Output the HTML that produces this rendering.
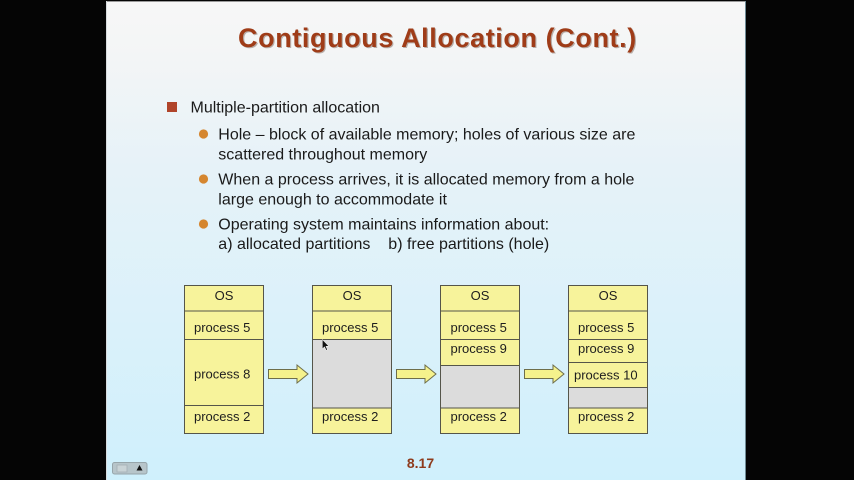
<!DOCTYPE html>
<html>
<head>
<meta charset="utf-8">
<style>
  html, body { margin: 0; padding: 0; background: #050505; }
  body { width: 854px; height: 480px; overflow: hidden; }
  svg { display: block; }
  .t { font-family: "Liberation Sans", Arial, sans-serif; }
</style>
</head>
<body>
<svg width="854" height="480" viewBox="0 0 854 480" xmlns="http://www.w3.org/2000/svg">
  <defs>
    <linearGradient id="bg" x1="0" y1="0" x2="0" y2="1">
      <stop offset="0" stop-color="#f7f7f7"/>
      <stop offset="0.12" stop-color="#f3f5f6"/>
      <stop offset="0.35" stop-color="#e6f2f8"/>
      <stop offset="1" stop-color="#cff0fc"/>
    </linearGradient>
  </defs>

  <rect x="0" y="0" width="854" height="480" fill="#050505"/>
  <rect x="106" y="1" width="640" height="479" fill="url(#bg)"/>
  <line x1="106" y1="1.5" x2="746" y2="1.5" stroke="#9a9a9a" stroke-width="1"/>
  <line x1="106.5" y1="1" x2="106.5" y2="480" stroke="#d8dcde" stroke-width="1"/>
  <line x1="745.5" y1="1" x2="745.5" y2="480" stroke="#6f8b96" stroke-width="1"/>

  <!-- Title -->
  <text class="t" x="238" y="47" font-size="27" font-weight="bold" letter-spacing="0.6" fill="#4a2a1a" opacity="0.35" transform="translate(1.2,1.2)">Contiguous Allocation (Cont.)</text>
  <text class="t" x="238" y="47" font-size="27" font-weight="bold" letter-spacing="0.6" fill="#9f3c18">Contiguous Allocation (Cont.)</text>

  <!-- Bullets -->
  <rect x="167" y="102" width="10" height="10" fill="#b0442a"/>
  <text class="t" x="190.5" y="112.5" font-size="16" fill="#1a1a1a">Multiple-partition allocation</text>

  <circle cx="203.5" cy="134" r="4.6" fill="#d5862f"/>
  <text class="t" x="218.3" y="139.5" font-size="16" fill="#1a1a1a">Hole – block of available memory; holes of various size are</text>
  <text class="t" x="218.3" y="159.5" font-size="16" fill="#1a1a1a">scattered throughout memory</text>

  <circle cx="203.5" cy="179" r="4.6" fill="#d5862f"/>
  <text class="t" x="218.3" y="184.5" font-size="16" fill="#1a1a1a">When a process arrives, it is allocated memory from a hole</text>
  <text class="t" x="218.3" y="204.5" font-size="16" fill="#1a1a1a">large enough to accommodate it</text>

  <circle cx="203.5" cy="224" r="4.6" fill="#d5862f"/>
  <text class="t" x="218.3" y="229.5" font-size="16" fill="#1a1a1a">Operating system maintains information about:</text>
  <text class="t" y="249" font-size="16" fill="#1a1a1a"><tspan x="218.3">a) allocated partitions</tspan><tspan x="388.3">b) free partitions (hole)</tspan></text>

  <!-- Box 1 -->
  <g stroke="#55554a" stroke-width="1">
    <rect x="184.5" y="285.5" width="79" height="148" fill="#f7f39b"/>
    <line x1="184.5" y1="311" x2="263.5" y2="311"/>
    <line x1="184.5" y1="339.5" x2="263.5" y2="339.5"/>
    <line x1="184.5" y1="405.5" x2="263.5" y2="405.5"/>
  </g>
  <!-- Box 2 -->
  <g stroke="#55554a" stroke-width="1">
    <rect x="312.5" y="285.5" width="79" height="148" fill="#f7f39b"/>
    <rect x="312.5" y="339.5" width="79" height="68.5" fill="#dcdcdc"/>
    <line x1="312.5" y1="311" x2="391.5" y2="311"/>
  </g>
  <!-- Box 3 -->
  <g stroke="#55554a" stroke-width="1">
    <rect x="440.5" y="285.5" width="79" height="148" fill="#f7f39b"/>
    <rect x="440.5" y="365.5" width="79" height="42.5" fill="#dcdcdc"/>
    <line x1="440.5" y1="311" x2="519.5" y2="311"/>
    <line x1="440.5" y1="339.5" x2="519.5" y2="339.5"/>
  </g>
  <!-- Box 4 -->
  <g stroke="#55554a" stroke-width="1">
    <rect x="568.5" y="285.5" width="79" height="148" fill="#f7f39b"/>
    <rect x="568.5" y="387.5" width="79" height="20.5" fill="#dcdcdc"/>
    <line x1="568.5" y1="311" x2="647.5" y2="311"/>
    <line x1="568.5" y1="339.5" x2="647.5" y2="339.5"/>
    <line x1="568.5" y1="362.5" x2="647.5" y2="362.5"/>
  </g>

  <!-- Box labels -->
  <g class="t" font-size="13" fill="#1e1e1e" font-family="Liberation Sans, Arial, sans-serif">
    <text x="224" y="300" text-anchor="middle">OS</text>
    <text x="194" y="332">process 5</text>
    <text x="194" y="378.5">process 8</text>
    <text x="194" y="421">process 2</text>

    <text x="352" y="300" text-anchor="middle">OS</text>
    <text x="322" y="332">process 5</text>
    <text x="322" y="421">process 2</text>

    <text x="480" y="300" text-anchor="middle">OS</text>
    <text x="450.5" y="332">process 5</text>
    <text x="450.5" y="353">process 9</text>
    <text x="450.5" y="421">process 2</text>

    <text x="608" y="300" text-anchor="middle">OS</text>
    <text x="578" y="332">process 5</text>
    <text x="578" y="353">process 9</text>
    <text x="574" y="379.5">process 10</text>
    <text x="578" y="421">process 2</text>
  </g>

  <!-- Arrows -->
  <g fill="#f5f28c" stroke="#6e6e4a" stroke-width="1" stroke-linejoin="miter">
    <polygon points="268.5,369.5 297,369.5 297,365 308,374 297,383 297,378.5 268.5,378.5"/>
    <polygon points="396.5,369.5 425,369.5 425,365 436,374 425,383 425,378.5 396.5,378.5"/>
    <polygon points="524.5,369.5 553,369.5 553,365 564,374 553,383 553,378.5 524.5,378.5"/>
  </g>

  <!-- Mouse cursor -->
  <polygon points="322.3,339.5 322.3,349 324.5,346.8 326.2,350.3 327.5,349.7 325.9,346.3 328.8,346.2" fill="#111" stroke="#fff" stroke-width="0.5"/>

  <!-- Page number -->
  <text class="t" x="420.5" y="468" font-size="14" font-weight="bold" fill="#8e3b1c" text-anchor="middle">8.17</text>

  <!-- Bottom-left control -->
  <rect x="112.5" y="462.5" width="34.5" height="11.5" rx="2" fill="#b7c5ca" stroke="#97a5aa" stroke-width="1"/>
  <rect x="117" y="465" width="10" height="7" fill="#c9d3d6" stroke="#a4b0b4" stroke-width="0.8"/>
  <polygon points="139.5,465 142.5,470.5 136.5,470.5" fill="#111"/>
</svg>
</body>
</html>
